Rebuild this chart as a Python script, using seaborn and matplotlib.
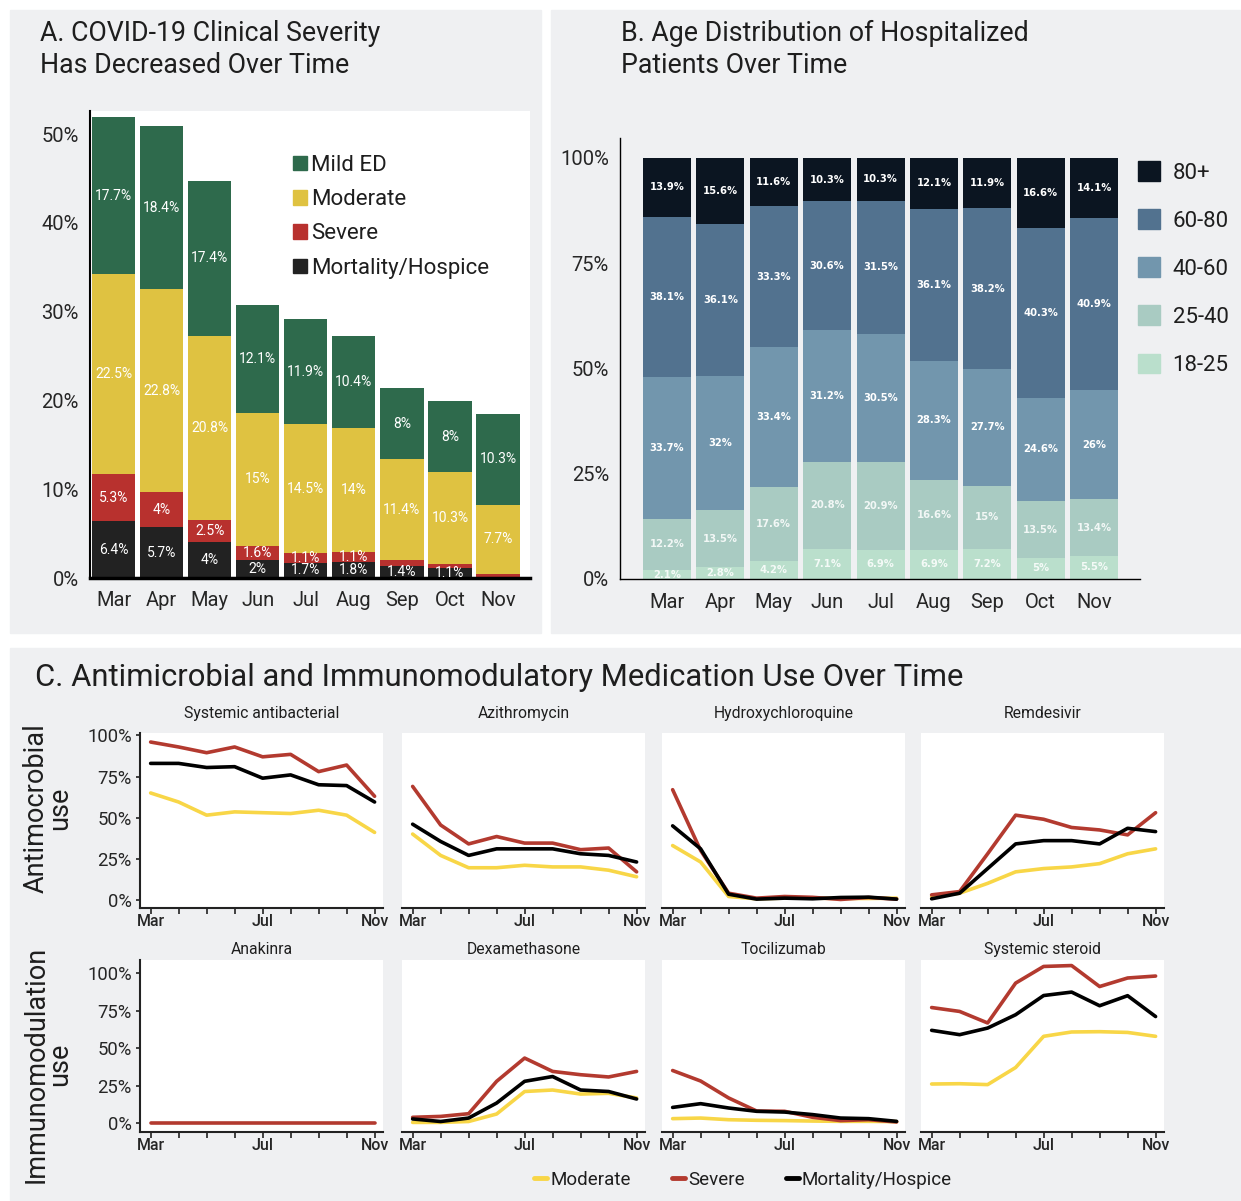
import numpy as np
import pandas as pd
import matplotlib
matplotlib.use("Agg")
import matplotlib.pyplot as plt
from matplotlib.patches import Rectangle, Patch
from matplotlib.lines import Line2D
import seaborn as sns

months = ["Mar", "Apr", "May", "Jun", "Jul", "Aug", "Sep", "Oct", "Nov"]

# A. share of encounters by severity (%)
sev_mortality = [6.4, 5.7, 4.0, 2.0, 1.7, 1.8, 1.4, 1.1, 0.1]
sev_severe = [5.3, 4.0, 2.5, 1.6, 1.1, 1.1, 0.6, 0.5, 0.4]
sev_moderate = [22.5, 22.8, 20.8, 15.0, 14.5, 14.0, 11.4, 10.3, 7.7]
sev_mild = [17.7, 18.4, 17.4, 12.1, 11.9, 10.4, 8.0, 8.0, 10.3]

# B. age groups of hospitalized patients (%)
age_18_25 = [2.1, 2.8, 4.2, 7.1, 6.9, 6.9, 7.2, 5.0, 5.5]
age_25_40 = [12.2, 13.5, 17.6, 20.8, 20.9, 16.6, 15.0, 13.5, 13.4]
age_40_60 = [33.7, 32.0, 33.4, 31.2, 30.5, 28.3, 27.7, 24.6, 26.0]
age_60_80 = [38.1, 36.1, 33.3, 30.6, 31.5, 36.1, 38.2, 40.3, 40.9]
age_80_plus = [13.9, 15.6, 11.6, 10.3, 10.3, 12.1, 11.9, 16.6, 14.1]

# C. medication use (%) - moderate / severe / mortality-hospice
abx_mod = [65, 59.5, 51.5, 53.5, 53, 52.5, 54.5, 51.5, 41]
abx_sev = [96, 93, 89.5, 93, 87, 88.5, 78, 82, 63]
abx_mort = [83, 83, 80.5, 81, 74, 76, 70, 69.5, 59.5]
azi_mod = [40, 27, 19.5, 19.5, 21, 20, 20, 18, 14]
azi_sev = [69, 45.5, 34, 38.5, 34.5, 34.5, 30.5, 31.5, 17]
azi_mort = [46, 35.5, 27, 31, 31, 31, 28, 27, 23]
hcq_mod = [33, 23, 2, 0.6, 1, 1, 0.8, 0.8, 1]
hcq_sev = [67, 30, 4, 1, 2, 1.5, 0.2, 1.4, 0.4]
hcq_mort = [45, 31, 3.4, 0.4, 1, 0.6, 1.4, 1.6, 0.4]
rem_mod = [2, 4, 10, 17, 19, 20, 22, 28, 31]
rem_sev = [3, 5, 28, 51.5, 49, 44, 42.5, 39.5, 53]
rem_mort = [0.6, 4, 19, 34, 36, 36, 34, 43.5, 41.5]
ana_mod = [np.nan] * 9
ana_sev = [0, 0, 0, 0, 0, 0, 0, 0, 0]
ana_mort = [np.nan] * 9
dex_mod = [0.4, 0.4, 1, 6, 21, 22, 19.3, 19.8, 16.7]
dex_sev = [3.8, 4.4, 6.2, 27.8, 43.3, 34.4, 32.2, 30.7, 34.4]
dex_mort = [2.7, 1, 3.3, 13.3, 27.8, 31, 22, 21, 16]
toc_mod = [2.9, 3.3, 2.2, 1.8, 1.6, 1.3, 1.1, 1.1, 0.9]
toc_sev = [35, 28, 16.7, 8, 7.8, 3.8, 1.6, 2.2, 0.7]
toc_mort = [10.4, 12.9, 10, 7.8, 7.3, 5.6, 3.3, 2.9, 1.1]
ste_mod = [26, 26.2, 25.6, 37, 57.8, 60.7, 60.9, 60.4, 57.8]
ste_sev = [77, 74.4, 66.7, 93.3, 104.4, 105, 91, 96.7, 98]
ste_mort = [61.8, 58.9, 63.3, 72.2, 85, 87.3, 78.2, 84.9, 71]

drugs = [
    ("Systemic antibacterial", abx_mod, abx_sev, abx_mort),
    ("Azithromycin", azi_mod, azi_sev, azi_mort),
    ("Hydroxychloroquine", hcq_mod, hcq_sev, hcq_mort),
    ("Remdesivir", rem_mod, rem_sev, rem_mort),
    ("Anakinra", ana_mod, ana_sev, ana_mort),
    ("Dexamethasone", dex_mod, dex_sev, dex_mort),
    ("Tocilizumab", toc_mod, toc_sev, toc_mort),
    ("Systemic steroid", ste_mod, ste_sev, ste_mort),
]

sns.set_theme(style="white")
plt.rcParams["font.family"] = ["Roboto", "DejaVu Sans"]
plt.rcParams["text.color"] = "#1e1e1e"

W, H = 1241, 1201
def rect(x0, y0, x1, y1):
    return [x0 / W, 1 - y1 / H, (x1 - x0) / W, (y1 - y0) / H]

fig = plt.figure(figsize=(W / 100, H / 100), dpi=100)
box = "#eff0f2"
for x0, y0, x1, y1 in [(10, 10, 541, 633), (551, 10, 1240, 633), (10, 648, 1240, 1200)]:
    fig.add_artist(Rectangle((x0 / W, 1 - y1 / H), (x1 - x0) / W, (y1 - y0) / H,
                             transform=fig.transFigure, color=box, zorder=-10))

# ---------------- A ----------------
axA = fig.add_axes(rect(90, 111, 530, 578))
axA.set_facecolor("white")
sevA = pd.DataFrame({"Mortality/Hospice": sev_mortality, "Severe": sev_severe,
                     "Moderate": sev_moderate, "Mild ED": sev_mild}, index=months)
colA = {"Mild ED": "#2e6a4c", "Moderate": "#dfc241", "Severe": "#b8312e",
        "Mortality/Hospice": "#222222"}
cumA = sevA.cumsum(axis=1)
for col in reversed(sevA.columns):
    sns.barplot(x=months, y=cumA[col].values, color=colA[col], width=0.9,
                saturation=1, errorbar=None, linewidth=0, edgecolor="none", ax=axA)
for i, m in enumerate(months):
    base = 0
    for col in sevA.columns:
        v = sevA.loc[m, col]
        if v >= 1:
            axA.text(i, base + v / 2, f"{v:g}%", color="white", ha="center",
                     va="center", fontsize=10)
        base += v
axA.set_xlim(-0.49, 8.665)
axA.set_ylim(0, 52.6)
axA.set_yticks([0, 10, 20, 30, 40, 50], ["0%", "10%", "20%", "30%", "40%", "50%"])
axA.tick_params(axis="y", length=3, width=1, color="black", pad=5, labelsize=14.5)
axA.tick_params(axis="x", length=0, pad=9, labelsize=14.5)
sns.despine(ax=axA)
axA.spines["left"].set_color("black")
axA.spines["left"].set_linewidth(1.5)
axA.spines["bottom"].set_color("black")
axA.spines["bottom"].set_linewidth(2.5)
axA.legend(handles=[Patch(color=colA[k]) for k in ["Mild ED", "Moderate", "Severe", "Mortality/Hospice"]],
           labels=["Mild ED", "Moderate", "Severe", "Mortality/Hospice"],
           loc="upper left", bbox_to_anchor=(0.436, 0.93), frameon=False,
           fontsize=16, handlelength=0.65, handleheight=0.65, handletextpad=0.15,
           labelspacing=0.6, borderpad=0)
fig.text(40 / W, 1 - 20 / H, "A. COVID-19 Clinical Severity\nHas Decreased Over Time",
         fontsize=19.3, va="top", ha="left", linespacing=1.25)

# ---------------- B ----------------
axB = fig.add_axes(rect(620, 138, 1140, 579))
axB.patch.set_alpha(0)
ageB = pd.DataFrame({"18-25": age_18_25, "25-40": age_25_40, "40-60": age_40_60,
                     "60-80": age_60_80, "80+": age_80_plus}, index=months)
colB = {"80+": "#0b1521", "60-80": "#52728f", "40-60": "#7296ad",
        "25-40": "#a9cbc2", "18-25": "#badfcc"}
cumB = ageB.cumsum(axis=1)
for col in reversed(ageB.columns):
    sns.barplot(x=months, y=cumB[col].values, color=colB[col], width=0.9,
                saturation=1, errorbar=None, linewidth=0, edgecolor="none", ax=axB)
for i, m in enumerate(months):
    base = 0
    for col in ageB.columns:
        v = ageB.loc[m, col]
        axB.text(i, base + v / 2, f"{v:g}%", color="white", ha="center", va="center",
                 fontsize=7.2, fontweight="bold", family="DejaVu Sans",
                 alpha=0.85 if col in ("18-25", "25-40") else 1)
        base += v
axB.set_xlim(-0.88, 8.86)
axB.set_ylim(0, 104.75)
axB.set_yticks([0, 25, 50, 75, 100], ["0%", "25%", "50%", "75%", "100%"])
axB.tick_params(axis="y", length=3, width=1, color="black", pad=5, labelsize=14.5)
axB.tick_params(axis="x", length=0, pad=10, labelsize=14.5)
sns.despine(ax=axB)
for s in ["left", "bottom"]:
    axB.spines[s].set_color("black")
    axB.spines[s].set_linewidth(1)
axB.legend(handles=[Patch(color=colB[k]) for k in ["80+", "60-80", "40-60", "25-40", "18-25"]],
           labels=["80+", "60-80", "40-60", "25-40", "18-25"],
           loc="upper left", bbox_to_anchor=(1127 / W, 1 - 150 / H),
           bbox_transform=fig.transFigure, frameon=False, fontsize=16,
           handlelength=1.0, handleheight=1.0, handletextpad=0.55,
           labelspacing=1.15, borderpad=0)
fig.text(621 / W, 1 - 20 / H, "B. Age Distribution of Hospitalized\nPatients Over Time",
         fontsize=19.3, va="top", ha="left", linespacing=1.25)

# ---------------- C ----------------
fig.text(35 / W, 1 - 677 / H, "C. Antimicrobial and Immunomodulatory Medication Use Over Time",
         fontsize=22.3, va="center", ha="left")
line_cols = {"Moderate": "#f8d647", "Severe": "#b33a2f", "Mortality/Hospice": "#000000"}
groups = ["Moderate", "Severe", "Mortality/Hospice"]
col_x = [140, 402, 662, 921]
rows = [(733, 908, (-5, 101.5), 10.5), (960, 1132, (-6, 108.7), 4.5)]
for k, (title, mod, sev, mort) in enumerate(drugs):
    r, c = divmod(k, 4)
    y0, y1, ylim, tpad = rows[r]
    ax = fig.add_axes(rect(col_x[c], y0, col_x[c] + 243, y1))
    ax.set_facecolor("white")
    d = pd.DataFrame({"x": list(range(9)) * 3,
                      "value": list(mod) + list(sev) + list(mort),
                      "group": [g for g in groups for _ in range(9)]})
    sns.lineplot(data=d, x="x", y="value", hue="group", hue_order=groups,
                 palette=line_cols, linewidth=2.6, errorbar=None, legend=False, ax=ax)
    ax.set_xlim(-0.38, 8.3)
    ax.set_ylim(*ylim)
    ax.set_xlabel("")
    ax.set_ylabel("")
    ax.set_title(title, fontsize=11.3, pad=tpad)
    ax.set_xticks(range(9), [m if m in ("Mar", "Jul", "Nov") else "" for m in months])
    ax.tick_params(axis="x", length=4, width=1.2, color="#222222", pad=0,
                   labelsize=11.5, bottom=True)
    for lab in ax.get_xticklabels():
        lab.set_fontweight("medium")
    sns.despine(ax=ax, left=(c != 0))
    ax.spines["bottom"].set_color("#222222")
    ax.spines["bottom"].set_linewidth(1.5)
    if c == 0:
        ax.set_yticks([0, 25, 50, 75, 100], ["0%", "25%", "50%", "75%", "100%"])
        ax.tick_params(axis="y", length=3, width=1.2, color="#222222", pad=3,
                       labelsize=13.3, left=True)
        ax.spines["left"].set_color("#222222")
        ax.spines["left"].set_linewidth(1.5)
    else:
        ax.set_yticks([0, 25, 50, 75, 100], [])
        ax.tick_params(axis="y", length=0)

fig.text(48 / W, 1 - 808 / H, "Antimocrobial\nuse", rotation=90, ha="center",
         va="center", fontsize=19.5, linespacing=0.85, multialignment="center")
fig.text(48 / W, 1 - 1064 / H, "Immunomodulation\nuse", rotation=90, ha="center",
         va="center", fontsize=19.5, linespacing=0.85, multialignment="center")

fig.legend(handles=[Line2D([], [], color=line_cols[g], lw=3.5) for g in groups],
           labels=groups, loc="center", bbox_to_anchor=(743 / W, 1 - 1180 / H),
           ncol=3, frameon=False, fontsize=13.5, handlelength=0.7,
           handletextpad=0.15, columnspacing=2.2)

fig.savefig("out.png", dpi=100)
